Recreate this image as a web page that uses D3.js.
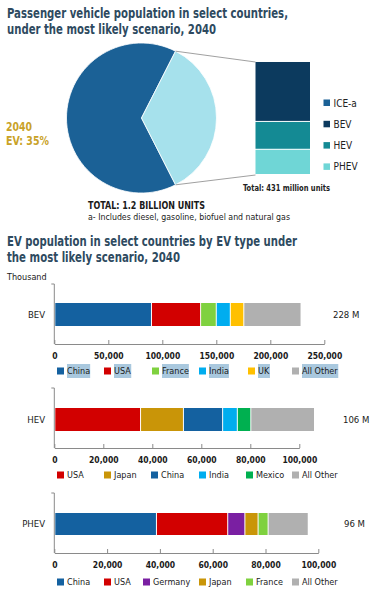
<!DOCTYPE html>
<html>
<head>
<meta charset="utf-8">
<script src="https://cdn.jsdelivr.net/npm/d3@7"></script>
<style>
  body { margin: 0; background: #fff; }
  text { font-family: "DejaVu Sans Condensed", "Roboto", sans-serif; font-stretch: condensed; }
</style>
</head>
<body>
<div id="main"></div>
<script>
// ---- data ----
const SHARE_LABELS = ["ICE-a", "EV"];
const SHARES = [65, 35];
const EV_TYPES = ["BEV", "HEV", "PHEV"];
const EV_TOTALS = [228, 106, 96]; // million units
const LEGEND_TYPES = ["ICE-a", "BEV", "HEV", "PHEV"];

const BEV_COUNTRIES = ["China", "USA", "France", "India", "UK", "All Other"];
const BEV_VALUES = [89500, 45500, 14500, 13000, 12500, 53000];
const HEV_COUNTRIES = ["USA", "Japan", "China", "India", "Mexico", "All Other"];
const HEV_VALUES = [35000, 17500, 16000, 6000, 5500, 26000];
const PHEV_COUNTRIES = ["China", "USA", "Germany", "Japan", "France", "All Other"];
const PHEV_VALUES = [38500, 27000, 6500, 5000, 3800, 15200];

const BEV_TICKS = [0, 50000, 100000, 150000, 200000, 250000];
const HEV_TICKS = [0, 20000, 40000, 60000, 80000, 100000];
const PHEV_TICKS = [0, 20000, 40000, 60000, 80000, 100000];

const ctx = {
    w: 376,
    h: 593,
    titleColor: "#2e4a5f",
    gold: "#c9a227",
    axisColor: "#8a8a8a",
};

const COUNTRY_COLOR = {
    "China": "#1461a0",
    "USA": "#d20000",
    "France": "#7fd13f",
    "India": "#00adef",
    "UK": "#ffc000",
    "All Other": "#b0b0b0",
    "Japan": "#c99508",
    "Mexico": "#00b050",
    "Germany": "#7a1fa2",
};
const TYPE_COLOR = { "ICE-a": "#1b6196", "EV": "#a6e1ec", "BEV": "#0c3a5e", "HEV": "#148a94", "PHEV": "#6fd6d6" };

const svg = d3.select("#main").append("svg")
    .attr("width", ctx.w)
    .attr("height", ctx.h);

// titles, squeezed to the widths of the original condensed face
function title(lines, widths, x, y0, dy) {
    lines.forEach(function (t, i) {
        svg.append("text")
            .attr("x", x).attr("y", y0 + i * dy)
            .attr("font-size", 13.5).attr("font-weight", "bold")
            .attr("fill", ctx.titleColor)
            .attr("textLength", widths[i]).attr("lengthAdjust", "spacingAndGlyphs")
            .text(t);
    });
}

title(["Passenger vehicle population in select countries,", "under the most likely scenario, 2040"], [281, 209], 7, 18, 16);

// ---- pie ----
const pieG = svg.append("g").attr("transform", "translate(141.5,118)");
const startA = 153 * Math.PI / 180;
const pie = d3.pie().sort(null).startAngle(startA).endAngle(startA + 2 * Math.PI);
const arcs = pie(SHARES);
const arc = d3.arc().innerRadius(0).outerRadius(75);
pieG.selectAll("path")
    .data(arcs)
    .enter()
    .append("path")
    .attr("d", arc)
    .attr("fill", (d, i) => TYPE_COLOR[SHARE_LABELS[i]])
    .attr("stroke", "#fff")
    .attr("stroke-width", 0.8);

// stacked EV bar
const totalEV = d3.sum(EV_TOTALS);
const stackY = d3.scaleLinear().domain([0, totalEV]).range([62, 175]);
const cum = d3.cumsum(EV_TOTALS);
const barX0 = 255.5, barX1 = 310;
svg.selectAll(".evstack")
    .data(EV_TOTALS)
    .enter()
    .append("rect")
    .attr("x", barX0)
    .attr("width", barX1 - barX0)
    .attr("y", (d, i) => stackY(cum[i] - d))
    .attr("height", (d) => stackY(d) - stackY(0) - 1)
    .attr("fill", (d, i) => TYPE_COLOR[EV_TYPES[i]]);

// connector lines from slice edges to stacked bar
const evArc = arcs[1];
[evArc.startAngle, evArc.endAngle].forEach(function (a, i) {
    let px = 141.5 + 75 * Math.sin(a), py = 118 - 75 * Math.cos(a);
    svg.append("line")
        .attr("x1", px).attr("y1", py)
        .attr("x2", barX0).attr("y2", i == 0 ? stackY(0) : stackY(totalEV))
        .attr("stroke", "#777").attr("stroke-width", 0.7);
});

// legend (right)
LEGEND_TYPES.forEach(function (t, i) {
    let y = 103 + i * 21.3;
    svg.append("rect").attr("x", 323.5).attr("y", y - 3.5).attr("width", 6.5).attr("height", 6.5)
        .attr("fill", TYPE_COLOR[t]);
    svg.append("text").attr("x", 333.5).attr("y", y + 3.5)
        .attr("font-size", 10).attr("fill", "#222").text(t);
});

svg.append("text").attr("x", 243).attr("y", 191)
    .attr("font-size", 9).attr("font-weight", "bold").attr("fill", "#222")
    .attr("textLength", 87).attr("lengthAdjust", "spacingAndGlyphs")
    .text("Total: 431 million units");

svg.append("text").attr("x", 6).attr("y", 131)
    .attr("font-size", 12).attr("font-weight", "bold").attr("fill", ctx.gold)
    .attr("textLength", 26).attr("lengthAdjust", "spacingAndGlyphs")
    .text("2040");
svg.append("text").attr("x", 6).attr("y", 145)
    .attr("font-size", 12).attr("font-weight", "bold").attr("fill", ctx.gold)
    .attr("textLength", 43).attr("lengthAdjust", "spacingAndGlyphs")
    .text("EV: " + SHARES[1] + "%");

svg.append("text").attr("x", 88).attr("y", 209)
    .attr("font-size", 11).attr("font-weight", "bold").attr("fill", "#1a1a1a")
    .attr("textLength", 117).attr("lengthAdjust", "spacingAndGlyphs")
    .text("TOTAL: 1.2 BILLION UNITS");
svg.append("text").attr("x", 88).attr("y", 220)
    .attr("font-size", 9).attr("fill", "#1a1a1a")
    .attr("textLength", 202).attr("lengthAdjust", "spacingAndGlyphs")
    .text("a- Includes diesel, gasoline, biofuel and natural gas");

title(["EV population in select countries by EV type under", "the most likely scenario, 2040"], [290, 173], 7, 246, 16);
svg.append("text").attr("x", 7).attr("y", 280)
    .attr("font-size", 9).attr("fill", "#1a1a1a").text("Thousand");

// ---- stacked country bars ----
const panels = [
    { type: "BEV", countries: BEV_COUNTRIES, values: BEV_VALUES, ticks: BEV_TICKS, top: 284, axisY: 344, barY: 303, barH: 23, x1: 324.3, total: "228 M", totalX: 333, legendY: 371, legendX: [57, 104, 152, 199, 248, 292], highlight: true },
    { type: "HEV", countries: HEV_COUNTRIES, values: HEV_VALUES, ticks: HEV_TICKS, top: 388, axisY: 448, barY: 408, barH: 23, x1: 299.3, total: "106 M", totalX: 343, legendY: 475, legendX: [57, 104, 151, 199, 246, 292], highlight: false },
    { type: "PHEV", countries: PHEV_COUNTRIES, values: PHEV_VALUES, ticks: PHEV_TICKS, top: 493, axisY: 553, barY: 513, barH: 22, x1: 318.3, total: "96 M", totalX: 344, legendY: 582, legendX: [57, 104, 143, 199, 246, 292], highlight: false },
];
const X0 = 54.3;

panels.forEach(function (p) {
    let x = d3.scaleLinear().domain([0, d3.max(p.ticks)]).range([X0, p.x1]);
    let g = svg.append("g");

    // y axis line with top tick
    g.append("path")
        .attr("d", `M${X0 - 3},${p.top}H${X0}V${p.axisY}`)
        .attr("fill", "none").attr("stroke", ctx.axisColor).attr("stroke-width", 1);

    // x axis
    let ax = g.append("g")
        .attr("transform", `translate(0,${p.axisY})`)
        .call(d3.axisBottom(x).tickValues(p.ticks).tickSizeInner(-4).tickSizeOuter(0)
            .tickFormat(d3.format(",")));
    ax.select(".domain").attr("stroke", ctx.axisColor);
    ax.selectAll(".tick line").attr("stroke", ctx.axisColor);
    ax.selectAll(".tick text")
        .attr("y", 12).attr("dy", "0.35em")
        .attr("font-family", "DejaVu Sans Condensed, Roboto, sans-serif")
        .attr("font-size", 8.5).attr("font-weight", "bold").attr("fill", "#1a1a1a");

    // bar segments
    let c = d3.cumsum(p.values);
    g.selectAll(".seg")
        .data(p.values)
        .enter()
        .append("rect")
        .attr("x", (d, i) => x(c[i] - d) + 1)
        .attr("y", p.barY)
        .attr("width", (d) => x(d) - x(0) - 1)
        .attr("height", p.barH)
        .attr("fill", (d, i) => COUNTRY_COLOR[p.countries[i]]);

    g.append("text")
        .attr("x", 45).attr("y", p.barY + p.barH / 2).attr("dy", "0.35em")
        .attr("text-anchor", "end").attr("font-size", 9.5).attr("fill", "#1a1a1a")
        .text(p.type);
    g.append("text")
        .attr("x", p.totalX).attr("y", p.barY + p.barH / 2).attr("dy", "0.35em")
        .attr("font-size", 9.5).attr("fill", "#1a1a1a")
        .text(p.total);

    // legend
    p.countries.forEach(function (name, i) {
        let lx = p.legendX[i];
        g.append("rect")
            .attr("x", lx).attr("y", p.legendY - 3.5).attr("width", 7).attr("height", 7)
            .attr("fill", COUNTRY_COLOR[name]);
        let t = g.append("text")
            .attr("x", lx + 10).attr("y", p.legendY).attr("dy", "0.35em")
            .attr("font-size", 9).attr("fill", "#1a1a1a")
            .text(name);
        if (p.highlight) {
            let bb = t.node().getBBox();
            g.insert("rect", () => t.node())
                .attr("x", bb.x).attr("y", p.legendY - 7)
                .attr("width", bb.width).attr("height", 14)
                .attr("fill", "#a9c8de");
        }
    });
});
</script>
</body>
</html>
